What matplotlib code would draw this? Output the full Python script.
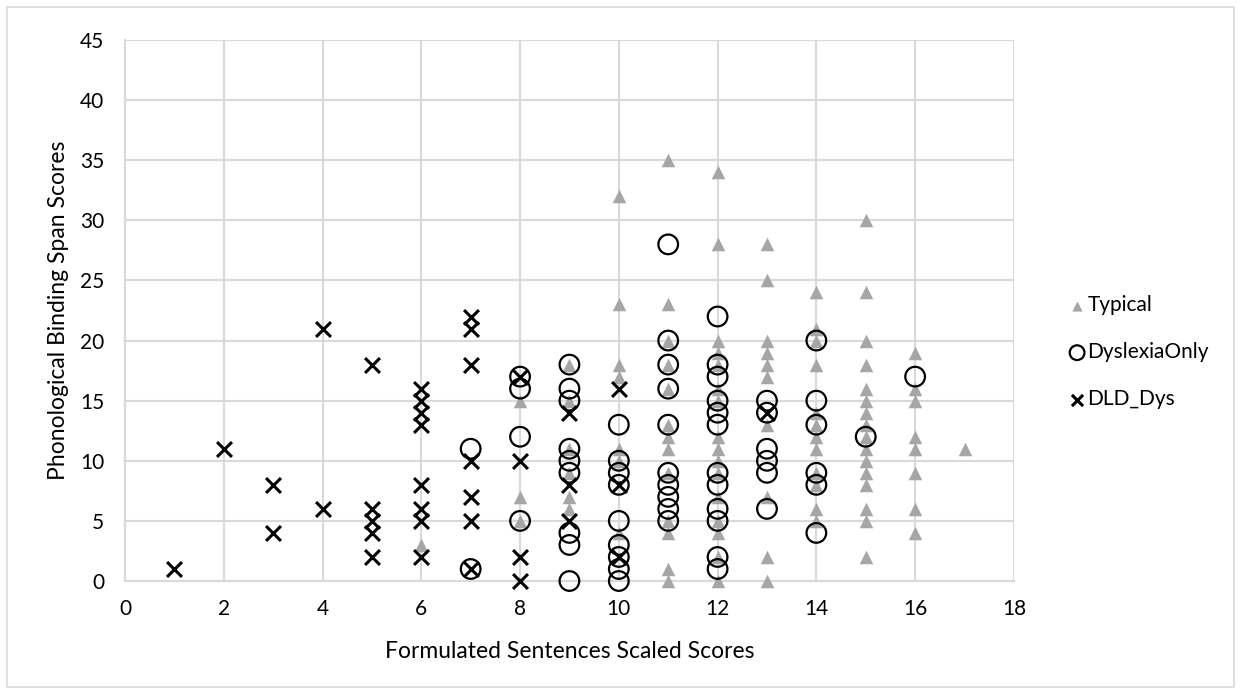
import matplotlib
matplotlib.use("Agg")
from matplotlib import pyplot as plt
from matplotlib.patches import Rectangle

# Typical group
typical_x = [6,
             8, 8, 8,
             9, 9, 9, 9, 9, 9,
             10, 10, 10, 10, 10, 10, 10,
             11, 11, 11, 11, 11, 11, 11, 11, 11, 11, 11, 11, 11,
             12, 12, 12, 12, 12, 12, 12, 12, 12, 12, 12, 12, 12, 12, 12, 12,
             13, 13, 13, 13, 13, 13, 13, 13, 13, 13,
             14, 14, 14, 14, 14, 14, 14, 14, 14, 14, 14, 14,
             15, 15, 15, 15, 15, 15, 15, 15, 15, 15, 15, 15, 15, 15, 15, 15,
             16, 16, 16, 16, 16, 16, 16, 16,
             17]
typical_y = [3,
             15, 7, 5,
             18, 15, 11, 9, 7, 6,
             32, 23, 18, 17, 11, 10, 4,
             35, 23, 20, 18, 16, 13, 12, 11, 9, 5, 4, 1, 0,
             34, 28, 20, 19, 18, 16, 15, 12, 11, 10, 9, 7, 5, 4, 2, 0,
             28, 25, 20, 19, 18, 17, 13, 7, 2, 0,
             24, 21, 20, 18, 14, 13, 12, 11, 9, 8, 6, 5,
             30, 24, 20, 18, 16, 15, 14, 13, 12, 11, 10, 9, 8, 6, 5, 2,
             19, 16, 15, 12, 11, 9, 6, 4,
             11]

# Dyslexia only group
dys_x = [7, 7,
         8, 8, 8, 8,
         9, 9, 9, 9, 9, 9, 9, 9, 9,
         10, 10, 10, 10, 10, 10, 10, 10, 10,
         11, 11, 11, 11, 11, 11, 11, 11, 11, 11,
         12, 12, 12, 12, 12, 12, 12, 12, 12, 12, 12, 12,
         13, 13, 13, 13, 13, 13,
         14, 14, 14, 14, 14, 14,
         15,
         16]
dys_y = [11, 1,
         17, 16, 12, 5,
         18, 16, 15, 11, 10, 9, 4, 3, 0,
         13, 10, 9, 8, 5, 3, 2, 1, 0,
         28, 20, 18, 16, 13, 9, 8, 7, 6, 5,
         22, 18, 17, 15, 14, 13, 9, 8, 6, 5, 2, 1,
         15, 14, 11, 10, 9, 6,
         20, 15, 13, 9, 8, 4,
         12,
         17]

# DLD + dyslexia group
dld_x = [1, 2, 3, 3, 4, 4,
         5, 5, 5, 5, 5,
         6, 6, 6, 6, 6, 6, 6, 6,
         7, 7, 7, 7, 7, 7, 7,
         8, 8, 8, 8,
         9, 9, 9,
         10, 10, 10,
         13]
dld_y = [1, 11, 8, 4, 21, 6,
         18, 6, 5, 4, 2,
         16, 15, 14, 13, 8, 6, 5, 2,
         22, 21, 18, 10, 7, 5, 1,
         17, 10, 2, 0,
         14, 8, 5,
         16, 8, 2,
         14]

plt.rcParams['font.family'] = ['Lato', 'DejaVu Sans']

fig = plt.figure(figsize=(12.41, 6.94), dpi=100)
ax = fig.add_axes([0.1007, 0.1628, 0.7163, 0.7796])

grid_col = "#d9d9d9"
ax.scatter(typical_x, typical_y, marker="^", s=95, color="#a6a6a6",
           linewidths=0, label="Typical", zorder=3, clip_on=False)
ax.scatter(dys_x, dys_y, marker="o", s=200, facecolors="none",
           edgecolors="black", linewidths=1.6, label="DyslexiaOnly", zorder=4, clip_on=False)
ax.scatter(dld_x, dld_y, marker="x", s=115, color="black",
           linewidths=2.2, label="DLD_Dys", zorder=5, clip_on=False)

ax.set_xlim(0, 18)
ax.set_ylim(0, 45)
ax.set_xticks(range(0, 19, 2))
ax.set_yticks(range(0, 46, 5))
ax.grid(True, color=grid_col, linewidth=1.5)
ax.set_axisbelow(True)
for side in ["top", "right"]:
    ax.spines[side].set_visible(False)
for side in ["left", "bottom"]:
    ax.spines[side].set_color(grid_col)
    ax.spines[side].set_linewidth(1.5)
ax.tick_params(length=0, labelsize=15, colors="#000000")
ax.tick_params(axis="y", pad=15)
ax.tick_params(axis="x", pad=13)

ax.set_xlabel("Formulated Sentences Scaled Scores", fontsize=16.5, labelpad=16)
ax.set_ylabel("Phonological Binding Span Scores", fontsize=16.5, labelpad=8)

leg = ax.legend(loc="center left", bbox_to_anchor=(1.05, 0.423), frameon=False,
                fontsize=15, handletextpad=0.0, labelspacing=1.3,
                handlelength=1.0, borderaxespad=0, markerscale=0.75)

fig.patches.append(Rectangle((0.006, 0.01), 0.988, 0.98, transform=fig.transFigure,
                             fill=False, edgecolor=grid_col, linewidth=1.2))

fig.savefig("out.png", dpi=100)
